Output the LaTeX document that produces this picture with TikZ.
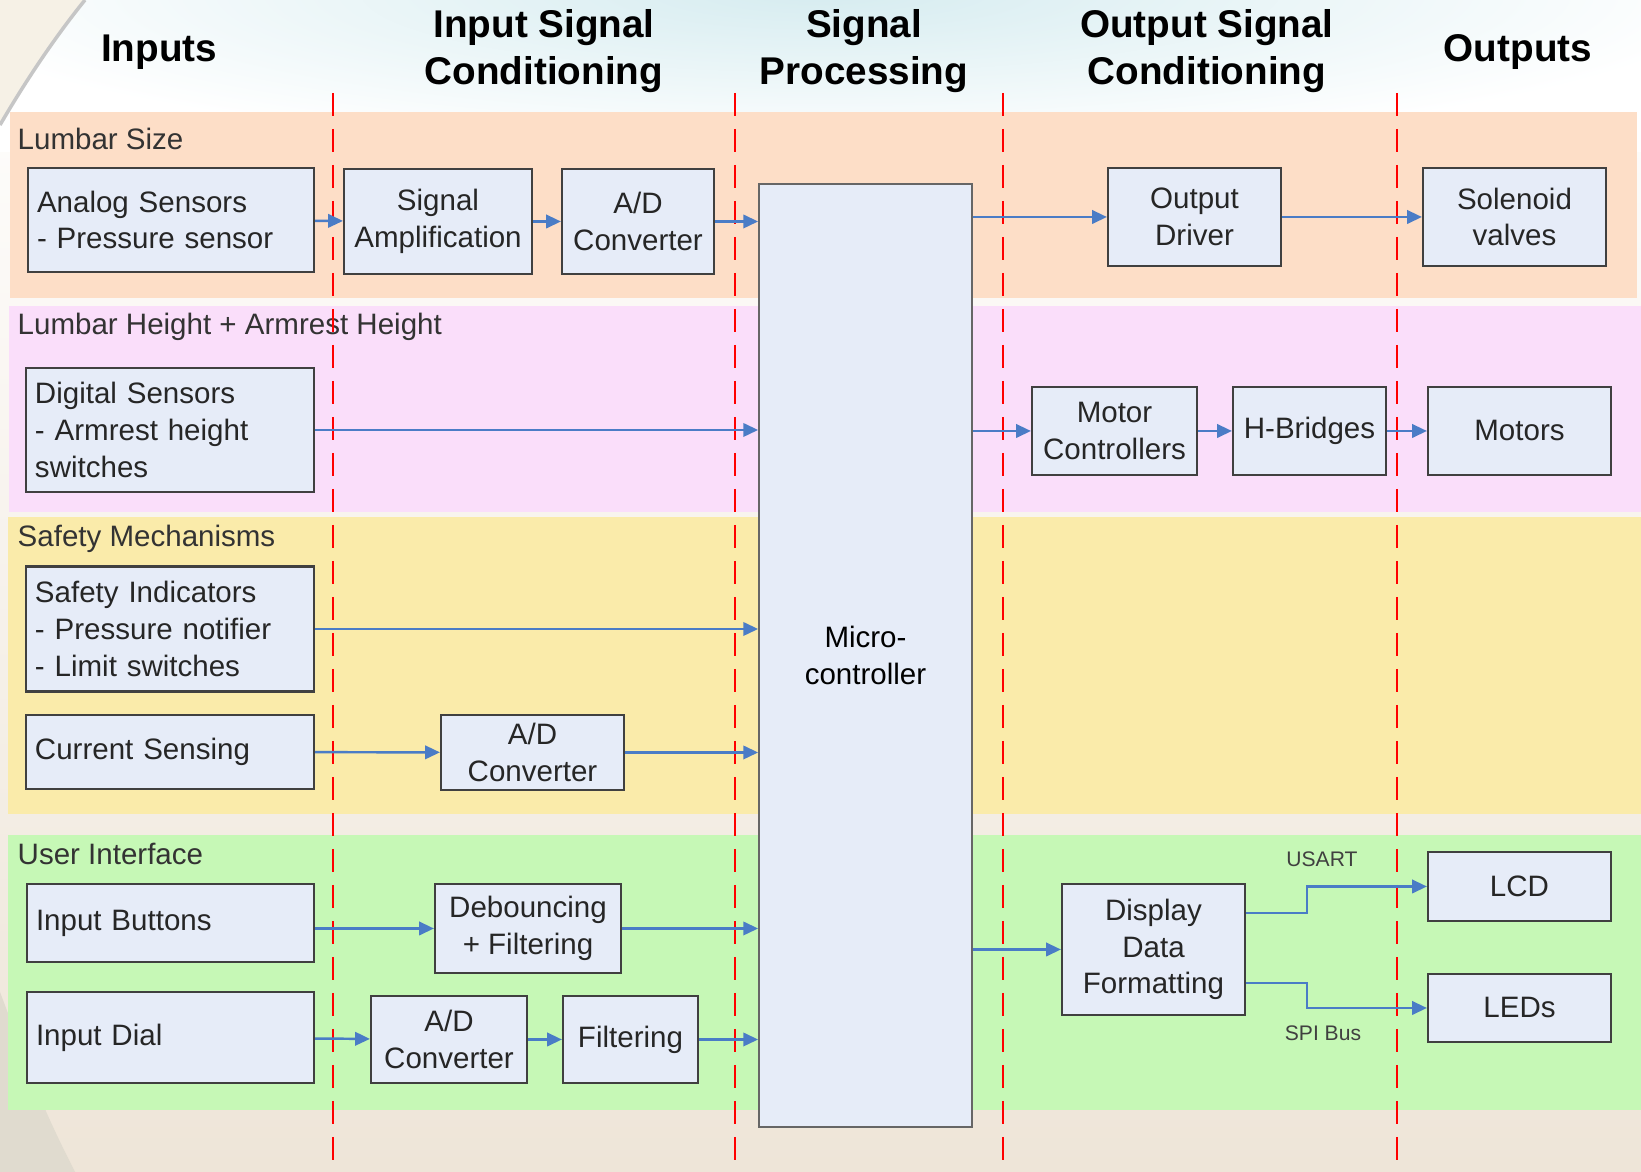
\documentclass[tikz,border=0pt]{standalone}
\usepackage{fontspec}
\setmainfont{Liberation Sans}
\usepackage{tikz}
\usetikzlibrary{arrows.meta,positioning,calc}

\definecolor{bandorange}{HTML}{FDDEC7}
\definecolor{bandpink}{HTML}{FADEFA}
\definecolor{bandyellow}{HTML}{FAEBAA}
\definecolor{bandgreen}{HTML}{C6F8B6}
\definecolor{boxfill}{HTML}{E6ECF8}
\definecolor{flowblue}{HTML}{4A7CC6}
\definecolor{bgtop}{HTML}{D6ECF0}
\definecolor{bgbottom}{HTML}{EEE5D8}
\definecolor{swoosh}{HTML}{F6F1E6}
\definecolor{swooshdark}{HTML}{E0DBCF}

\newcommand{\blkfont}{\fontsize{8.4}{10.4}\selectfont}
\newcommand{\headfont}{\fontsize{11}{13.4}\selectfont\bfseries}
\newcommand{\busfont}{\fontsize{6}{7}\selectfont}

\tikzset{
  blk/.style={draw=black!75, fill=boxfill, line width=0.6pt, inner sep=0pt,
    align=center, font=\blkfont, text=black!85},
  lblk/.style={blk, align=left, inner xsep=0.09cm, text width=#1},
  flow/.style={-{Triangle[length=4.2pt,width=3.8pt]}, flowblue, line width=0.7pt},
  stage/.style={red, line width=0.45pt, dash pattern=on 0.23cm off 0.13cm},
  grouplbl/.style={anchor=base west, inner sep=0pt, font=\blkfont, text=black!80},
  heading/.style={font=\headfont, align=center},
  buslbl/.style={font=\busfont, text=black!75}
}

\begin{document}
\begin{tikzpicture}
    \useasboundingbox (0,0) rectangle (16.41,11.72);
    % background
    \shade[top color=white, bottom color=bgbottom] (0,0) rectangle (16.41,11.72);
    \begin{scope}
      \clip (0,10.2) rectangle (16.41,11.72);
      \shade[inner color=bgtop, outer color=white] (-1,10.2) rectangle (17.4,13.4);
    \end{scope}
    \fill[swoosh] (0,11.72) -- (0.85,11.72) .. controls (0.55,11.35) and (0.25,10.9) .. (0,10.47) -- cycle;
    \draw[gray!45, line width=1pt] (0.85,11.72) .. controls (0.55,11.35) and (0.25,10.9) .. (0,10.47);
    \fill[swooshdark] (0,0) -- (0.75,0) .. controls (0.6,0.3) and (0.45,0.6) .. (0.3,1.0) -- (0,1.8) -- cycle;

    % bands
    \fill[bandorange] (0.10,8.74) rectangle (16.37,10.60);
    \fill[bandpink] (0.09,6.60) rectangle (16.41,8.66);
    \fill[bandyellow] (0.08,3.58) rectangle (16.41,6.55);
    \fill[bandgreen] (0.08,0.62) rectangle (16.41,3.37);

    \node[grouplbl] (gsize) at (0.17,10.22) {Lumbar Size};
    \node[grouplbl] (gheight) at (0.17,8.37) {Lumbar Height + Armrest Height};
    \node[grouplbl] (gsafety) at (0.17,6.25) {Safety Mechanisms};
    \node[grouplbl] (gui) at (0.17,3.07) {User Interface};

    % headings
    \node[heading, anchor=base] (hin) at (1.59,11.10) {Inputs};
    \node[heading] (hisc) at (5.44,11.205) {Input Signal\\Conditioning};
    \node[heading] (hproc) at (8.64,11.205) {Signal\\Processing};
    \node[heading] (hosc) at (12.07,11.205) {Output Signal\\Conditioning};
    \node[heading, anchor=base] (hout) at (15.18,11.10) {Outputs};

    % stage borders
    \draw[stage] (3.33,10.79) -- (3.33,0);
    \draw[stage] (7.35,10.79) -- (7.35,0);
    \draw[stage] (10.03,10.79) -- (10.03,0);
    \draw[stage] (13.97,10.79) -- (13.97,0);

    % microcontroller
    \node[blk, draw=black!60, line width=0.5pt, text=black, minimum width=2.13cm, minimum height=9.43cm] (mcu) at (8.655,5.165) {Micro-\\controller};

    % lumbar size
    \node[lblk=2.68cm, minimum height=1.04cm] (analog) at (1.71,9.52) {Analog Sensors\\- Pressure sensor};
    \node[blk, minimum width=1.88cm, minimum height=1.05cm] (amp) at (4.38,9.505) {Signal\\Amplification};
    \node[blk, minimum width=1.52cm, minimum height=1.05cm] (adc1) at (6.38,9.505) {A/D\\Converter};
    \node[blk, minimum width=1.73cm, minimum height=0.98cm] (driver) at (11.945,9.55) {Output\\Driver};
    \node[blk, minimum width=1.83cm, minimum height=0.98cm] (solenoid) at (15.145,9.55) {Solenoid\\valves};
    \draw[flow] (analog) -- (amp);
    \draw[flow] (amp) -- (adc1);
    \draw[flow] (adc1.east) -- (adc1.east -| mcu.west);
    \draw[flow] (mcu.east |- driver.west) -- (driver.west);
    \draw[flow] (driver) -- (solenoid);

    % lumbar height + armrest height
    \node[lblk=2.70cm, minimum height=1.24cm] (digital) at (1.70,7.42) {Digital Sensors\\- Armrest height\\switches};
    \node[blk, minimum width=1.65cm, minimum height=0.88cm] (motorctl) at (11.145,7.41) {Motor\\Controllers};
    \node[blk, minimum width=1.53cm, minimum height=0.88cm] (hbridge) at (13.095,7.41) {H-Bridges};
    \node[blk, minimum width=1.83cm, minimum height=0.88cm] (motors) at (15.195,7.41) {Motors};
    \draw[flow] (digital.east) -- (digital.east -| mcu.west);
    \draw[flow] (mcu.east |- motorctl.west) -- (motorctl.west);
    \draw[flow] (motorctl) -- (hbridge);
    \draw[flow] (hbridge) -- (motors);

    % safety mechanisms
    \node[lblk=2.70cm, minimum height=1.25cm] (safety) at (1.70,5.43) {Safety Indicators\\- Pressure notifier\\- Limit switches};
    \node[lblk=2.70cm, minimum height=0.74cm] (cursense) at (1.70,4.20) {Current Sensing};
    \node[blk, minimum width=1.83cm, minimum height=0.75cm] (adc2) at (5.325,4.195) {A/D\\Converter};
    \draw[flow] (safety.east) -- (safety.east -| mcu.west);
    \draw[flow] (cursense) -- (adc2);
    \draw[flow] (adc2.east) -- (adc2.east -| mcu.west);

    % user interface
    \node[lblk=2.69cm, minimum height=0.78cm] (buttons) at (1.705,2.49) {Input Buttons};
    \node[blk, minimum width=1.86cm, minimum height=0.89cm] (debounce) at (5.28,2.435) {Debouncing\\+ Filtering};
    \node[lblk=2.69cm, minimum height=0.91cm] (dial) at (1.705,1.345) {Input Dial};
    \node[blk, minimum width=1.56cm, minimum height=0.87cm] (adc3) at (4.49,1.325) {A/D\\Converter};
    \node[blk, minimum width=1.35cm, minimum height=0.87cm] (filter) at (6.305,1.325) {Filtering};
    \node[blk, minimum width=1.83cm, minimum height=1.31cm] (ddf) at (11.535,2.225) {Display\\Data\\Formatting};
    \node[blk, minimum width=1.83cm, minimum height=0.69cm] (lcd) at (15.195,2.855) {LCD};
    \node[blk, minimum width=1.83cm, minimum height=0.68cm] (leds) at (15.195,1.64) {LEDs};
    \node[buslbl] (usart) at (13.22,3.13) {USART};
    \node[buslbl] (spi) at (13.23,1.39) {SPI Bus};
    \draw[flow] (debounce.west -| buttons.east) -- (debounce.west);
    \draw[flow] (debounce.east) -- (debounce.east -| mcu.west);
    \draw[flow] (dial) -- (adc3);
    \draw[flow] (adc3) -- (filter);
    \draw[flow] (filter.east) -- (filter.east -| mcu.west);
    \draw[flow] (mcu.east |- ddf.west) -- (ddf.west);
    \draw[flow] ([yshift=0.365cm]ddf.east) -- ++(0.61,0) |- (lcd.west);
    \draw[flow] ([yshift=-0.335cm]ddf.east) -- ++(0.61,0) |- (leds.west);
  \end{tikzpicture}
\end{document}
